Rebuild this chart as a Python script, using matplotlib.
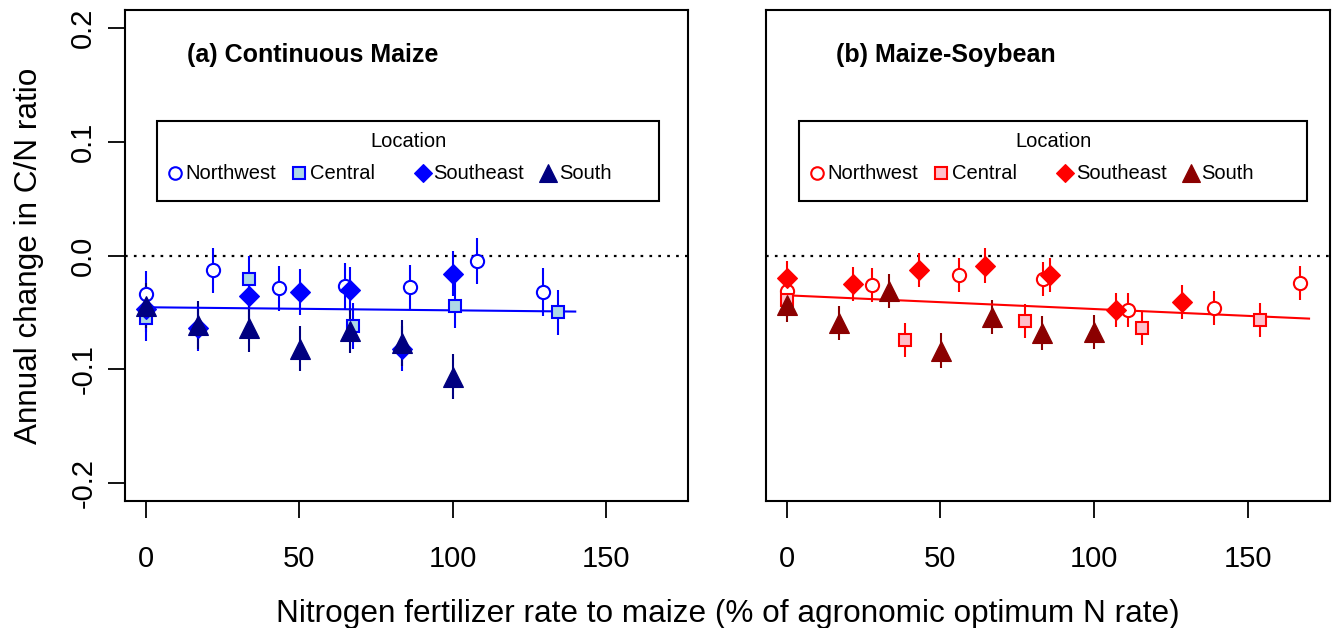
import matplotlib
matplotlib.use("Agg")
import matplotlib.pyplot as plt
from matplotlib.patches import Rectangle

plt.rcParams["font.family"] = ["Liberation Sans", "DejaVu Sans"]

# ---- data ----
# (a) Continuous maize
cm_nw_x = [0, 21.8, 43.4, 64.8, 86.2, 107.9, 129.6]
cm_nw_y = [-0.034, -0.013, -0.029, -0.027, -0.028, -0.005, -0.032]
cm_nw_se = [0.020, 0.020, 0.020, 0.020, 0.020, 0.020, 0.021]

cm_c_x = [0, 33.5, 67.5, 100.8, 134.5]
cm_c_y = [-0.055, -0.021, -0.062, -0.044, -0.050]
cm_c_se = [0.020, 0.021, 0.020, 0.020, 0.020]

cm_se_x = [0, 16.9, 33.5, 50.3, 66.6, 83.4, 100.3]
cm_se_y = [-0.047, -0.064, -0.036, -0.032, -0.030, -0.082, -0.016]
cm_se_se = [0.020, 0.020, 0.020, 0.020, 0.020, 0.020, 0.020]

cm_s_x = [0, 16.9, 33.5, 50.3, 66.6, 83.4, 100.3]
cm_s_y = [-0.044, -0.061, -0.064, -0.082, -0.066, -0.077, -0.1065]
cm_s_se = [0.020, 0.021, 0.021, 0.020, 0.020, 0.020, 0.020]

cm_fit_x = [0, 140]
cm_fit_y = [-0.0455, -0.0493]

# (b) Maize-soybean
ms_nw_x = [0, 27.8, 55.9, 83.5, 111.1, 139.2, 167.1]
ms_nw_y = [-0.031, -0.026, -0.017, -0.021, -0.048, -0.046, -0.024]
ms_nw_se = [0.015, 0.015, 0.015, 0.015, 0.015, 0.015, 0.015]

ms_c_x = [0, 38.4, 77.5, 115.7, 153.9]
ms_c_y = [-0.039, -0.074, -0.058, -0.064, -0.057]
ms_c_se = [0.015, 0.015, 0.015, 0.015, 0.015]

ms_se_x = [0, 21.5, 43.0, 64.5, 85.7, 107.2, 128.5]
ms_se_y = [-0.020, -0.025, -0.0126, -0.0088, -0.017, -0.048, -0.0405]
ms_se_se = [0.015, 0.015, 0.015, 0.015, 0.015, 0.015, 0.015]

ms_s_x = [0, 16.9, 33.4, 50.2, 66.7, 83.2, 100.0]
ms_s_y = [-0.0434, -0.059, -0.031, -0.0836, -0.054, -0.068, -0.0674]
ms_s_se = [0.015, 0.015, 0.015, 0.015, 0.015, 0.015, 0.015]

ms_fit_x = [0, 170]
ms_fit_y = [-0.035, -0.0555]

locations = ["Northwest", "Central", "Southeast", "South"]
x_ticks = [0, 50, 100, 150]
y_ticks = [-0.2, -0.1, 0.0, 0.1, 0.2]

# marker, size, face colour, edge colour, bar colour, edge width
blue_styles = [
    ("o", 9.5, "white", "#0000FF", "#0000FF", 1.5),
    ("s", 8.5, "#ADD8E6", "#0000FF", "#0000FF", 1.5),
    ("D", 10.0, "#0000FF", "#0000FF", "#0000FF", 0.8),
    ("^", 14.0, "#000080", "#000080", "#000080", 0.8),
]
red_styles = [
    ("o", 9.5, "white", "#FF0000", "#FF0000", 1.5),
    ("s", 8.5, "#FFC0CB", "#FF0000", "#FF0000", 1.5),
    ("D", 10.0, "#FF0000", "#FF0000", "#FF0000", 0.8),
    ("^", 14.0, "#8B0000", "#8B0000", "#8B0000", 0.8),
]

# legend entry offsets inside the box (axes fraction)
leg_marker_dx = [0.032, 0.252, 0.472, 0.695]


def draw_panel(ax, series, styles, fit_x, fit_y, fit_col, title, leg_box):
    ax.axhline(0, color="black", lw=1.6, ls=(0, (1.2, 2.8)), zorder=1)
    ax.plot(fit_x, fit_y, color=fit_col, lw=1.5, zorder=2.5)
    for i, ((x, y, se), st) in enumerate(zip(series, styles)):
        m, ms, fc, ec, bc, mew = st
        lo = [a - b for a, b in zip(y, se)]
        hi = [a + b for a, b in zip(y, se)]
        ax.vlines(x, lo, hi, color=bc, lw=1.5, zorder=2 + i * 0.01)
        ax.plot(x, y, ls="none", marker=m, ms=ms, mfc=fc, mec=ec, mew=mew,
                zorder=4 + i)

    ax.set_xlim(-6.8, 176.8)
    ax.set_ylim(-0.216, 0.216)
    ax.set_xticks(x_ticks)
    ax.set_xticklabels([str(t) for t in x_ticks])
    ax.tick_params(axis="x", length=12, width=1.3, pad=20, labelsize=21)
    for sp in ax.spines.values():
        sp.set_linewidth(1.5)

    ax.text(title[1], 0.908, title[0], transform=ax.transAxes,
            fontsize=18, fontweight="bold", ha="left", va="center")

    # legend box drawn by hand so the columns sit at even spacing
    x0, x1, y0, y1 = leg_box
    ax.add_patch(Rectangle((x0, y0), x1 - x0, y1 - y0, transform=ax.transAxes,
                           fill=False, ec="black", lw=1.5, zorder=10))
    ax.text((x0 + x1) / 2, y1 - 0.042, "Location", transform=ax.transAxes,
            fontsize=14.5, ha="center", va="center", zorder=11)
    ey = y0 + 0.056
    for name, dx, st in zip(locations, leg_marker_dx, styles):
        m, ms, fc, ec, bc, mew = st
        ax.plot([x0 + dx], [ey], transform=ax.transAxes, ls="none", marker=m,
                ms=ms * 0.95, mfc=fc, mec=ec, mew=mew, clip_on=False, zorder=11)
        ax.text(x0 + dx + 0.019, ey, name, transform=ax.transAxes,
                fontsize=14.5, ha="left", va="center", zorder=11)


fig = plt.figure(figsize=(13.33, 6.28), dpi=100)
ax1 = fig.add_axes([0.0938, 0.2022, 0.4224, 0.7818])
ax2 = fig.add_axes([0.5746, 0.2022, 0.4231, 0.7818])

cm_series = [(cm_nw_x, cm_nw_y, cm_nw_se), (cm_c_x, cm_c_y, cm_c_se),
             (cm_se_x, cm_se_y, cm_se_se), (cm_s_x, cm_s_y, cm_s_se)]
ms_series = [(ms_nw_x, ms_nw_y, ms_nw_se), (ms_c_x, ms_c_y, ms_c_se),
             (ms_se_x, ms_se_y, ms_se_se), (ms_s_x, ms_s_y, ms_s_se)]

draw_panel(ax1, cm_series, blue_styles, cm_fit_x, cm_fit_y, "#0000FF",
           ("(a) Continuous Maize", 0.110), (0.057, 0.9485, 0.612, 0.774))
draw_panel(ax2, ms_series, red_styles, ms_fit_x, ms_fit_y, "#FF0000",
           ("(b) Maize-Soybean", 0.124), (0.0585, 0.960, 0.612, 0.774))

ax1.set_yticks(y_ticks)
ax1.set_yticklabels([f"{t:.1f}" for t in y_ticks], rotation=90, va="center")
ax1.tick_params(axis="y", length=12, width=1.3, pad=8, labelsize=21)
ax2.set_yticks([])

fig.text(0.5458, 0.010, "Nitrogen fertilizer rate to maize (% of agronomic optimum N rate)",
         fontsize=22.7, ha="center", va="baseline")
fig.text(0.022, 0.593, "Annual change in C/N ratio", fontsize=22.7,
         rotation=90, ha="center", va="center")

fig.savefig("out.png", dpi=100)
